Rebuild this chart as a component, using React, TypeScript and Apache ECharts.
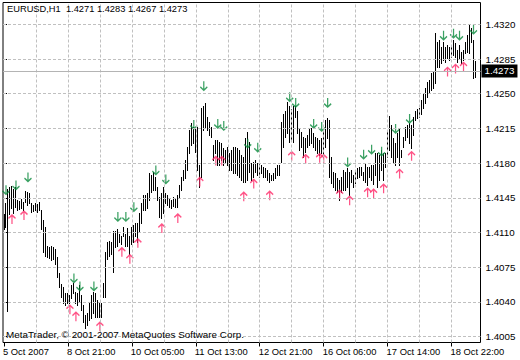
import React, { useEffect, useRef } from "react";
import * as echarts from "echarts";

// ---- data ----
const symbolTitle = "EURUSD,H1";
const lastBar = { open: 1.4271, high: 1.4283, low: 1.4267, close: 1.4273 };

const highs = [
  1.4129, 1.4140, 1.4154, 1.4156, 1.4157, 1.4154, 1.4156, 1.4143, 1.4142, 1.4144,
  1.4141, 1.4152, 1.4151, 1.4150, 1.4140, 1.4138, 1.4140, 1.4139, 1.4141, 1.4133,
  1.4123, 1.4116, 1.4096, 1.4095, 1.4096, 1.4095, 1.4093, 1.4085, 1.4069, 1.4058,
  1.4055, 1.4049, 1.4049, 1.4047, 1.4057, 1.4059, 1.4050, 1.4049, 1.4057, 1.4047,
  1.4037, 1.4027, 1.4029, 1.4040, 1.4047, 1.4050, 1.4049, 1.4042, 1.4040, 1.4039,
  1.4059, 1.4090, 1.4100, 1.4101, 1.4100, 1.4111, 1.4111, 1.4113, 1.4108, 1.4106,
  1.4116, 1.4108, 1.4115, 1.4106, 1.4116, 1.4118, 1.4120, 1.4120, 1.4130, 1.4140,
  1.4148, 1.4148, 1.4150, 1.4170, 1.4168, 1.4171, 1.4166, 1.4156, 1.4146, 1.4150,
  1.4156, 1.4150, 1.4148, 1.4145, 1.4143, 1.4146, 1.4144, 1.4148, 1.4158, 1.4166,
  1.4173, 1.4183, 1.4196, 1.4213, 1.4220, 1.4216, 1.4215, 1.4216, 1.4178, 1.4236,
  1.4238, 1.4241, 1.4226, 1.4221, 1.4216, 1.4198, 1.4203, 1.4203, 1.4201, 1.4200,
  1.4195, 1.4193, 1.4196, 1.4190, 1.4193, 1.4196, 1.4196, 1.4195, 1.4193, 1.4188,
  1.4186, 1.4205, 1.4211, 1.4201, 1.4180, 1.4181, 1.4183, 1.4180, 1.4180, 1.4178,
  1.4176, 1.4175, 1.4173, 1.4170, 1.4168, 1.4170, 1.4175, 1.4178, 1.4178, 1.4221,
  1.4230, 1.4233, 1.4242, 1.4238, 1.4235, 1.4238, 1.4238, 1.4233, 1.4215, 1.4211,
  1.4206, 1.4205, 1.4208, 1.4215, 1.4215, 1.4210, 1.4206, 1.4205, 1.4203, 1.4205,
  1.4213, 1.4223, 1.4225, 1.4223, 1.4186, 1.4171, 1.4170, 1.4165, 1.4163, 1.4166,
  1.4173, 1.4171, 1.4175, 1.4171, 1.4173, 1.4168, 1.4173, 1.4175, 1.4176, 1.4176,
  1.4171, 1.4180, 1.4176, 1.4176, 1.4178, 1.4178, 1.4190, 1.4190, 1.4188, 1.4193,
  1.4190, 1.4190, 1.4211, 1.4228, 1.4218, 1.4205, 1.4200, 1.4210, 1.4215, 1.4193,
  1.4206, 1.4216, 1.4218, 1.4220, 1.4218, 1.4226, 1.4233, 1.4235, 1.4236, 1.4244,
  1.4251, 1.4256, 1.4262, 1.4264, 1.4271, 1.4272, 1.4311, 1.4302, 1.4304, 1.4297,
  1.4302, 1.4297, 1.4299, 1.4297, 1.4297, 1.4304, 1.4301, 1.4294, 1.4299, 1.4292,
  1.4294, 1.4302, 1.4309, 1.4319, 1.4316, 1.4304, 1.4283,
];

const lows = [
  1.4114, 1.4116, 1.4031, 1.4129, 1.4135, 1.4130, 1.4136, 1.4133, 1.4134, 1.4135,
  1.4133, 1.4141, 1.4138, 1.4140, 1.4131, 1.4132, 1.4133, 1.4131, 1.4133, 1.4113,
  1.4090, 1.4086, 1.4085, 1.4084, 1.4082, 1.4083, 1.4078, 1.4065, 1.4055, 1.4045,
  1.4039, 1.4037, 1.4039, 1.4039, 1.4044, 1.4049, 1.4039, 1.4037, 1.4040, 1.4032,
  1.4020, 1.4014, 1.4017, 1.4022, 1.4024, 1.4029, 1.4025, 1.4025, 1.4025, 1.4025,
  1.4045, 1.4045, 1.4083, 1.4086, 1.4088, 1.4070, 1.4095, 1.4096, 1.4100, 1.4098,
  1.4106, 1.4096, 1.4096, 1.4088, 1.4098, 1.4100, 1.4106, 1.4100, 1.4110, 1.4120,
  1.4133, 1.4133, 1.4135, 1.4143, 1.4151, 1.4153, 1.4153, 1.4143, 1.4126, 1.4125,
  1.4130, 1.4140, 1.4138, 1.4136, 1.4135, 1.4137, 1.4136, 1.4136, 1.4146, 1.4153,
  1.4163, 1.4165, 1.4173, 1.4190, 1.4198, 1.4200, 1.4191, 1.4173, 1.4156, 1.4166,
  1.4213, 1.4216, 1.4213, 1.4208, 1.4206, 1.4183, 1.4190, 1.4178, 1.4178, 1.4183,
  1.4178, 1.4180, 1.4178, 1.4173, 1.4173, 1.4170, 1.4170, 1.4168, 1.4166, 1.4163,
  1.4161, 1.4161, 1.4163, 1.4171, 1.4163, 1.4166, 1.4171, 1.4168, 1.4166, 1.4170,
  1.4166, 1.4166, 1.4163, 1.4161, 1.4163, 1.4163, 1.4165, 1.4168, 1.4168, 1.4181,
  1.4196, 1.4206, 1.4210, 1.4201, 1.4203, 1.4201, 1.4226, 1.4210, 1.4193, 1.4196,
  1.4186, 1.4191, 1.4196, 1.4198, 1.4200, 1.4196, 1.4193, 1.4190, 1.4188, 1.4190,
  1.4186, 1.4196, 1.4205, 1.4166, 1.4160, 1.4156, 1.4153, 1.4151, 1.4143, 1.4151,
  1.4153, 1.4153, 1.4156, 1.4148, 1.4161, 1.4156, 1.4160, 1.4165, 1.4166, 1.4168,
  1.4163, 1.4161, 1.4158, 1.4166, 1.4163, 1.4159, 1.4168, 1.4156, 1.4163, 1.4173,
  1.4163, 1.4176, 1.4186, 1.4193, 1.4186, 1.4180, 1.4178, 1.4186, 1.4178, 1.4186,
  1.4196, 1.4203, 1.4206, 1.4200, 1.4195, 1.4208, 1.4223, 1.4225, 1.4226, 1.4230,
  1.4236, 1.4241, 1.4247, 1.4251, 1.4254, 1.4256, 1.4261, 1.4277, 1.4277, 1.4281,
  1.4284, 1.4282, 1.4286, 1.4284, 1.4287, 1.4289, 1.4287, 1.4282, 1.4286, 1.4281,
  1.4284, 1.4291, 1.4292, 1.4291, 1.4302, 1.4266, 1.4267,
];

// green down arrows (above highs): [bar index, price]
const downArrows = [
  [1, 1.4153], [6, 1.4158], [12, 1.4166], [35, 1.4064], [38, 1.4056], [45, 1.4056],
  [57, 1.4126], [61, 1.4126], [65, 1.4136], [76, 1.4173], [81, 1.4164], [95, 1.4219],
  [100, 1.4258], [107, 1.4220], [110, 1.4218], [122, 1.4200], [127, 1.4196],
  [143, 1.4247], [146, 1.4241], [155, 1.4220], [159, 1.4217], [162, 1.4241],
  [172, 1.4181], [180, 1.4189], [184, 1.4194], [189, 1.4192], [196, 1.4215],
  [203, 1.4225], [220, 1.4309], [225, 1.4311], [228, 1.4309], [235, 1.4315],
];

// red up arrows (below lows): [bar index, price]
const upArrows = [
  [4, 1.4123], [10, 1.4127], [33, 1.4032], [36, 1.4025], [48, 1.4015], [59, 1.4090],
  [63, 1.4083], [67, 1.4099], [79, 1.4114], [87, 1.4124], [98, 1.4161], [106, 1.4182],
  [109, 1.4182], [120, 1.4146], [125, 1.4159], [133, 1.4147], [144, 1.4187],
  [151, 1.4184], [158, 1.4185], [160, 1.4184], [168, 1.4148], [173, 1.4142],
  [182, 1.4150], [185, 1.4149], [190, 1.4154], [198, 1.4169], [204, 1.4187],
  [222, 1.4272], [226, 1.4275], [230, 1.4277],
];

const xTickIdx = [0, 32, 64, 96, 128, 160, 192, 224];
const xTickLabels = [
  "5 Oct 2007", "8 Oct 21:00", "10 Oct 05:00", "11 Oct 13:00",
  "12 Oct 21:00", "16 Oct 06:00", "17 Oct 14:00", "18 Oct 22:00",
];
const xGridIdx = [16, 32, 48, 64, 80, 96, 112, 128, 144, 160, 176, 192, 208, 224];
const yTicks = [1.4005, 1.404, 1.4075, 1.411, 1.4145, 1.418, 1.4215, 1.425, 1.4285, 1.432];
const copyright = "MetaTrader, \u00a9 2001-2007 MetaQuotes Software Corp.";

const FONT = "Tahoma, 'Liberation Sans', Arial, sans-serif";

export default function App() {
  const ref = useRef<HTMLDivElement>(null);

  useEffect(() => {
    if (!ref.current) return;
    const chart = echarts.init(ref.current, undefined, { renderer: "svg" });
    const n = Math.min(highs.length, lows.length);
    const barData = [];
    for (let i = 0; i < n; i++) barData.push([i, highs[i], lows[i]]);

    const title = `${symbolTitle}\u00a0 ${lastBar.open.toFixed(4)} ${lastBar.high.toFixed(4)} ${lastBar.low.toFixed(4)} ${lastBar.close.toFixed(4)}`;

    chart.setOption({
      animation: false,
      backgroundColor: "#fff",
      grid: {
        left: 2.5,
        top: 2.5,
        right: 39.5,
        bottom: 17.5,
        show: true,
        borderColor: "#000",
        borderWidth: 1,
        backgroundColor: "#fff",
      },
      xAxis: {
        type: "value",
        min: -0.5,
        max: 238.5,
        axisLine: { show: false },
        splitLine: { show: false },
        axisTick: {
          show: true,
          customValues: xTickIdx,
          length: 4,
          lineStyle: { color: "#000" },
        },
        axisLabel: {
          show: true,
          customValues: xTickIdx,
          formatter: (v: number) => {
            const k = xTickIdx.indexOf(Math.round(v));
            return k >= 0 ? xTickLabels[k] : "";
          },
          align: "left",
          margin: 4,
          color: "#000",
          fontSize: 9.4,
          fontFamily: FONT,
          padding: [0, 0, 0, -1],
        },
      },
      yAxis: {
        type: "value",
        position: "right",
        min: 1.3999,
        max: 1.4342,
        axisLine: { show: false },
        splitLine: { show: false },
        axisTick: {
          show: true,
          customValues: yTicks,
          length: 3,
          lineStyle: { color: "#000" },
        },
        axisLabel: {
          show: true,
          customValues: yTicks,
          formatter: (v: number) => v.toFixed(4),
          margin: 5,
          color: "#000",
          fontSize: 9.8,
          fontFamily: FONT,
        },
      },
      graphic: [
        {
          type: "text",
          left: 7,
          top: 4,
          z: 100,
          style: { text: title, fill: "#000", fontSize: 9.3, fontFamily: FONT },
        },
        {
          type: "text",
          left: 6,
          top: 329,
          z: 100,
          style: { text: copyright, fill: "#000", fontSize: 9.9, fontFamily: FONT },
        },
      ],
      series: [
        {
          type: "scatter",
          z: 1,
          silent: true,
          symbolSize: 0,
          data: [[0, lastBar.close]],
          itemStyle: { color: "rgba(0,0,0,0)" },
          markLine: {
            silent: true,
            animation: false,
            precision: 4,
            symbol: ["none", "none"],
            label: { show: false },
            lineStyle: { color: "#c0c0c0", type: [3, 2], width: 1 },
            emphasis: { disabled: true },
            data: [
              ...xGridIdx.map((v) => ({ xAxis: v })),
              ...yTicks.map((v) => ({ yAxis: v })),
              {
                yAxis: lastBar.close,
                lineStyle: { color: "#b4b4b4", type: "solid", width: 1 },
                label: {
                  show: true,
                  position: "end",
                  distance: 1,
                  formatter: lastBar.close.toFixed(4),
                  color: "#fff",
                  backgroundColor: "#000",
                  padding: [2, 3, 1, 3],
                  fontSize: 9.8,
                  fontFamily: FONT,
                },
              },
            ],
          },
        },
        {
          type: "custom",
          z: 2,
          silent: true,
          data: barData,
          encode: { x: 0, y: [1, 2] },
          renderItem: (params: any, api: any) => {
            const top = api.coord([api.value(0), api.value(1)]);
            const bot = api.coord([api.value(0), api.value(2)]);
            const y0 = Math.round(top[1]);
            const y1 = Math.round(bot[1]);
            return {
              type: "rect",
              shape: { x: Math.floor(top[0]), y: y0, width: 1, height: Math.max(1, y1 - y0 + 1) },
              style: { fill: "#000" },
            };
          },
        },
        {
          type: "scatter",
          z: 3,
          silent: true,
          data: downArrows,
          symbol: "path://M3.5,0 L3.5,8 M0.5,5 L3.5,8 L6.5,5",
          symbolSize: [7, 9],
          itemStyle: { color: "rgba(0,0,0,0)", borderColor: "#0a8a3c", borderWidth: 1.4 },
        },
        {
          type: "scatter",
          z: 3,
          silent: true,
          data: upArrows,
          symbol: "path://M3.5,8 L3.5,0 M0.5,3 L3.5,0 L6.5,3",
          symbolSize: [7, 9],
          itemStyle: { color: "rgba(0,0,0,0)", borderColor: "#ff2868", borderWidth: 1.4 },
        },
      ],
    });
    return () => chart.dispose();
  }, []);

  return (
    <div
      ref={ref}
      style={{ position: "fixed", left: 0, top: 0, width: 520, height: 360, background: "#fff" }}
    />
  );
}
